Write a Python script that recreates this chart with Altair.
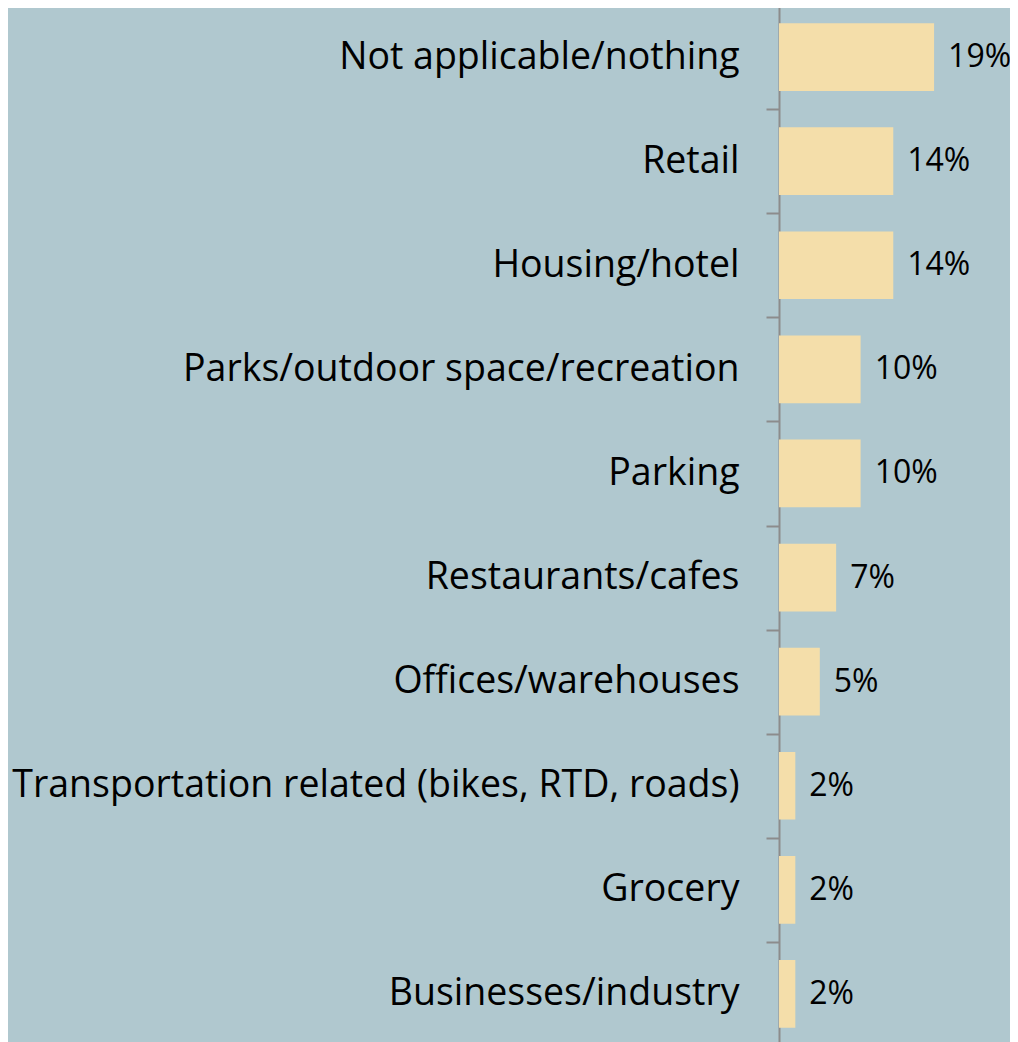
import altair as alt
import pandas as pd

categories = [
    "Not applicable/nothing",
    "Retail",
    "Housing/hotel",
    "Parks/outdoor space/recreation",
    "Parking",
    "Restaurants/cafes",
    "Offices/warehouses",
    "Transportation related (bikes, RTD, roads)",
    "Grocery",
    "Businesses/industry",
]
values = [19, 14, 14, 10, 10, 7, 5, 2, 2, 2]
labels = [f"{v}%" for v in values]

df = pd.DataFrame({"category": categories, "value": values, "label": labels})

FONT = "Open Sans"

y = alt.Y(
    "category:N",
    sort=categories,
    scale=alt.Scale(paddingInner=0, paddingOuter=0),
    axis=alt.Axis(
        title=None,
        labelFont=FONT,
        labelFontSize=37.5,
        labelColor="black",
        labelPadding=27,
        labelLimit=900,
        tickSize=13,
        tickColor="#8c8c8c",
        tickWidth=2,
        domainColor="#8c8c8c",
        domainWidth=2,
        tickBand="extent",
        grid=False,
    ),
)
x = alt.X("value:Q", scale=alt.Scale(domain=[0, 28.3]), axis=None)

bars = alt.Chart(df).mark_bar(color="#F4DEAA", height=alt.RelativeBandSize(0.65)).encode(x=x, y=y)
text = alt.Chart(df).mark_text(
    align="left", baseline="middle", dx=14, font=FONT, fontSize=32, color="black"
).encode(x=x, y=y, text="label:N")

chart = (
    alt.layer(bars, text)
    .properties(width=231, height=1041, background="#B0C8CF",
                autosize=alt.AutoSizeParams(type="none"),
                padding={"left": 771, "top": -3, "right": 0, "bottom": 0})
    .configure_view(stroke=None)
)

chart.save("out.html", embed_options={"renderer": "svg", "actions": False})
